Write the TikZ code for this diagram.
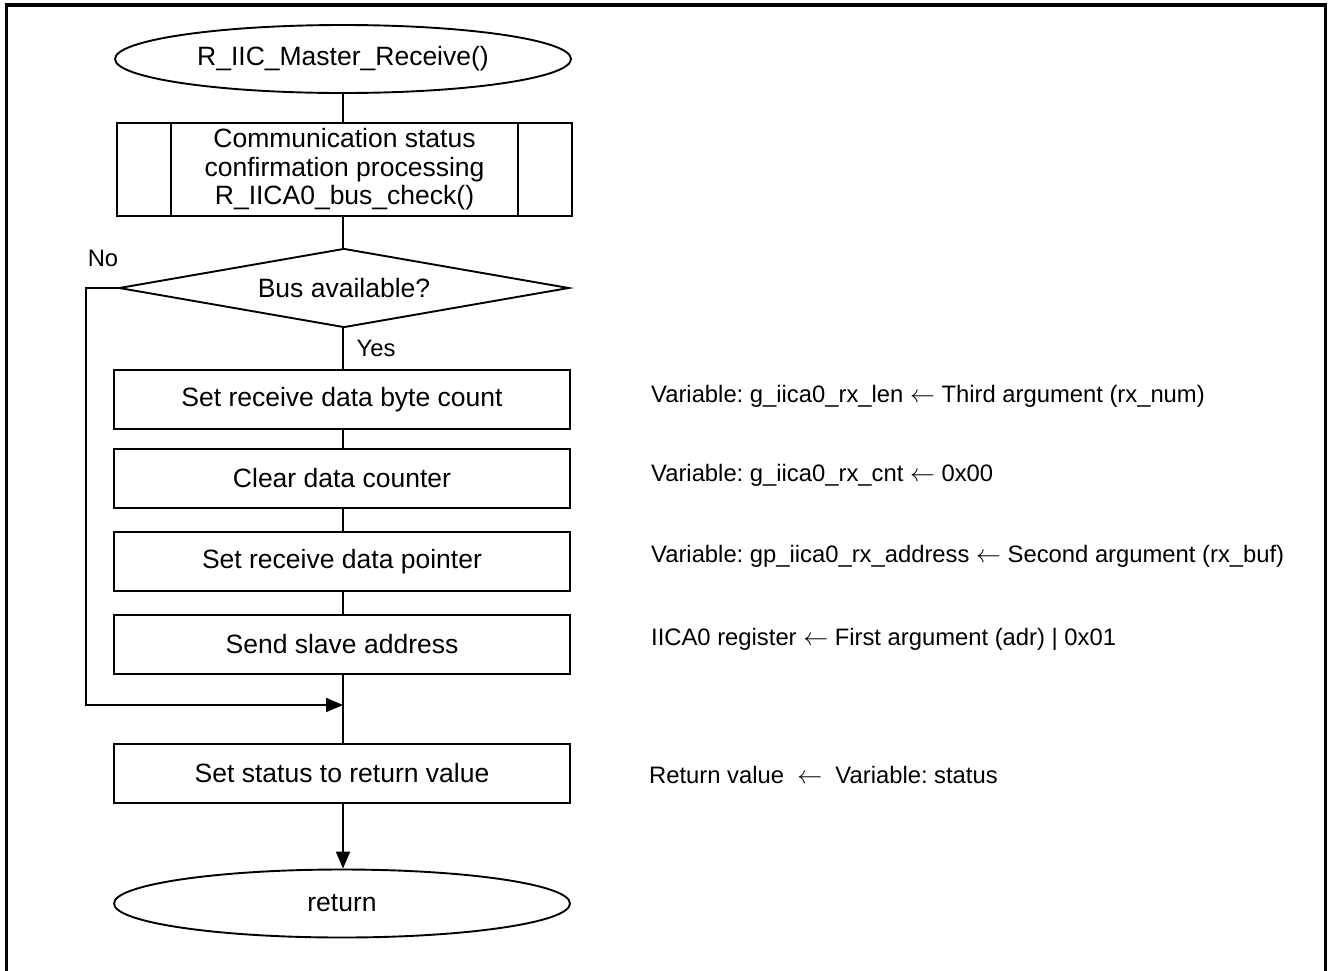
\documentclass[tikz,border=0pt]{standalone}
\usepackage{fontspec}
\setmainfont{Liberation Sans}
\usetikzlibrary{shapes.geometric,arrows.meta}

\newcommand{\larrow}{\ $\leftarrow$\ }
\frenchspacing

\tikzset{
  flow/.style={draw, line width=1.9pt, font=\fontsize{26.5}{28.5}\selectfont, inner sep=0pt, align=center},
  terminal/.style={flow, ellipse, minimum width=456pt, minimum height=68pt},
  procbox/.style={flow, rectangle, minimum width=456pt, minimum height=59pt},
  subproc/.style={flow, rectangle, minimum width=455pt, minimum height=93pt},
  decision/.style={flow, diamond, shape aspect=5.77, minimum width=450pt, minimum height=79pt},
  note/.style={font=\fontsize{23.8}{26}\selectfont, anchor=west, inner sep=0pt},
  tag/.style={font=\fontsize{23.8}{26}\selectfont, inner sep=0pt},
  line/.style={line width=1.9pt},
  arr/.style={line width=1.9pt, -{Triangle[length=17pt,width=14pt]}}
}

\begin{document}
\begin{tikzpicture}[x=1pt,y=-1pt]
\useasboundingbox (0,0) rectangle (1328,970);
\draw[line width=3.4pt] (6.5,5) rectangle (1325.5,975);

% flow chart column
\node[terminal] (start) at (343,59) {R\_IIC\_Master\_Receive()};
\node[subproc] (check) at (344.5,169.5) {Communication status\\confirmation processing\\R\_IICA0\_bus\_check()};
\draw[line] ([xshift=55pt]check.north west) -- ([xshift=55pt]check.south west);
\draw[line] ([xshift=-55pt]check.north east) -- ([xshift=-55pt]check.south east);
\node[decision] (bus) at (344,288) {Bus available?};
\node[procbox] (setlen) at (342,399.5) {Set receive data byte count};
\node[procbox] (clrcnt) at (342,478.5) {Clear data counter};
\node[procbox] (setptr) at (342,561.5) {Set receive data pointer};
\node[procbox] (sendadr) at (342,644.5) {Send slave address};
\coordinate (merge) at (343,705);
\node[procbox] (setret) at (342,773.5) {Set status to return value};
\node[terminal] (ret) at (342,903.5) {return};

% labels
\node[tag] (no) at (103,258) {No};
\node[tag] (yes) at (376,348) {Yes};

% connectors
\draw[line] (start.south) -- (start.south |- check.north);
\draw[line] (start.south |- check.south) -- (start.south |- bus.north);
\draw[line] (start.south |- bus.south) -- (start.south |- setlen.north);
\draw[line] (start.south |- setlen.south) -- (start.south |- clrcnt.north);
\draw[line] (start.south |- clrcnt.south) -- (start.south |- setptr.north);
\draw[line] (start.south |- setptr.south) -- (start.south |- sendadr.north);
\draw[line] (start.south |- sendadr.south) -- (start.south |- setret.north);
\draw[arr] (bus.west) -- ++(-32,0) |- (merge);
\draw[arr] (start.south |- setret.south) -- (start.south |- ret.north);

% comments on the right
\node[note] (n1) at (651,396) {Variable: g\_iica0\_rx\_len\larrow Third argument (rx\_num)};
\node[note] (n2) at (651,475) {Variable: g\_iica0\_rx\_cnt\larrow 0x00};
\node[note] (n3) at (651,556) {Variable: gp\_iica0\_rx\_address\larrow Second argument (rx\_buf)};
\node[note] (n4) at (651,639) {IICA0 register\larrow First argument (adr) | 0x01};
\node[note] (n5) at (649,775) {Return value\ \ $\leftarrow$\ \ Variable: status};
\end{tikzpicture}
\end{document}
